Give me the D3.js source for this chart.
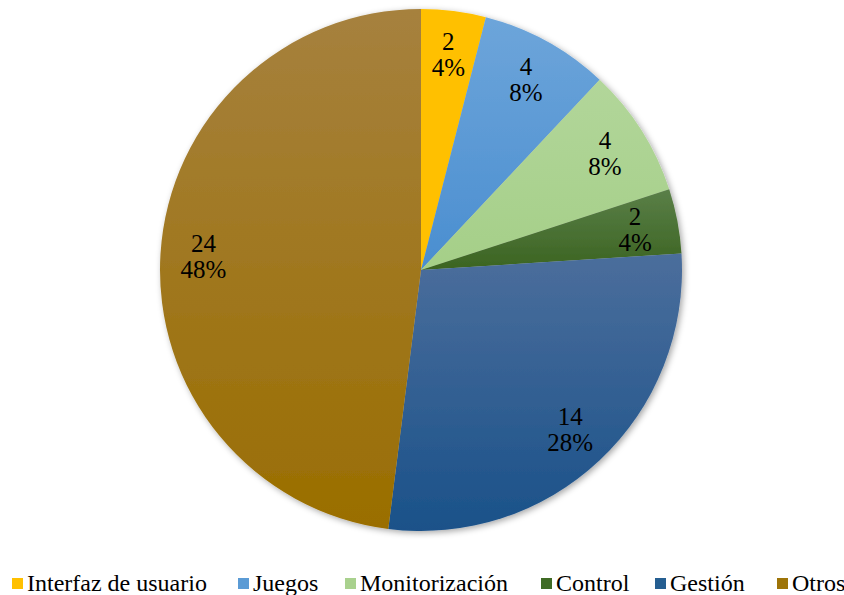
<!DOCTYPE html>
<html><head><meta charset="utf-8">
<script src="https://cdn.jsdelivr.net/npm/d3@7/dist/d3.min.js"></script>
</head><body style="margin:0">
<svg id="chart" width="844" height="595"></svg>
<script>
const categories = ["Interfaz de usuario","Juegos","Monitorización","Control","Gestión","Otros"];
const values = [2,4,4,2,14,24];
const topColors = ["#FFC000","#6DA5DA","#B2D69A","#5A7F48","#4B6E9C","#A6813E"];
const bottomColors = ["#FFC000","#4A8ED0","#A5CF88","#3B6421","#1A5189","#9A6E00"];
const legendColors = ["#FFC000","#5B9BD5","#A9D18E","#3F6B25","#255E91","#9E7408"];

const svg = d3.select("#chart");
const cx = 421, cy = 270, r = 261;
const total = d3.sum(values);
const pie = d3.pie().sort(null).value(d=>d)(values);
const arc = d3.arc().innerRadius(0).outerRadius(r);
const labelArc = d3.arc().innerRadius(r*0.835).outerRadius(r*0.835);

const legX = [12,238,345,541,655,777];
categories.forEach((c,i)=>{
  svg.append("text").attr("x",legX[i]+15).attr("y",591)
    .attr("font-family","Times New Roman").attr("font-size",24).attr("fill","#000").text(c);
  svg.append("rect").attr("x",legX[i]).attr("y",578).attr("width",11).attr("height",11).attr("fill",legendColors[i]);
});

const defs = svg.append("defs");
const f = defs.append("filter").attr("id","sh").attr("x","-10%").attr("y","-10%").attr("width","120%").attr("height","120%");
f.append("feDropShadow").attr("dx",2).attr("dy",2).attr("stdDeviation",3).attr("flood-color","#000").attr("flood-opacity",0.35);
categories.forEach((c,i)=>{
  const g = defs.append("linearGradient").attr("id","g"+i).attr("x1",0).attr("y1",0).attr("x2",0).attr("y2",1);
  g.append("stop").attr("offset","0%").attr("stop-color",topColors[i]);
  g.append("stop").attr("offset","100%").attr("stop-color",bottomColors[i]);
});
const g = svg.append("g").attr("transform",`translate(${cx},${cy})`);
g.append("g").attr("filter","url(#sh)").selectAll("path").data(pie).join("path")
  .attr("d",arc).attr("fill",(d,i)=>`url(#g${i})`);
pie.forEach(d=>{
  const [lx,ly] = labelArc.centroid(d);
  const t = svg.append("text").attr("text-anchor","middle").attr("font-size",25)
    .attr("font-family","Times New Roman").attr("fill","#000");
  t.append("tspan").attr("x",cx+lx).attr("y",cy+ly-4).text(d.data);
  t.append("tspan").attr("x",cx+lx).attr("y",cy+ly+22).text(Math.round(d.data/total*100)+"%");
});
</script>
</body></html>
